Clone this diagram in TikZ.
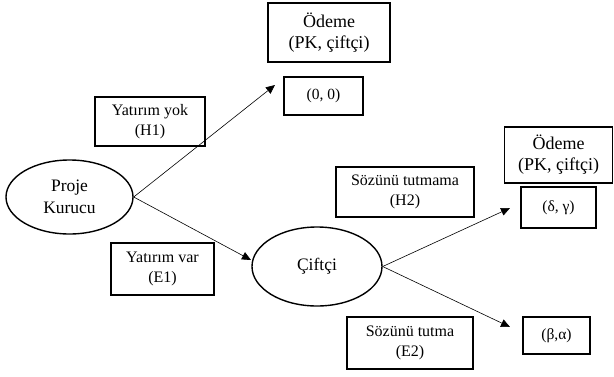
\documentclass[tikz,border=0pt]{standalone}
\usepackage{fontspec}
\setmainfont{Liberation Serif}
\usetikzlibrary{arrows.meta,shapes.geometric}

\begin{document}
\begin{tikzpicture}[x=1pt,y=-1pt]
    \tikzstyle{player}=[ellipse, draw=black, line width=1.4pt, inner sep=0pt, font=\fontsize{17.5}{22}\selectfont, align=center]
    \tikzstyle{choice}=[rectangle, draw=black, line width=1.6pt, inner sep=0pt, font=\fontsize{16}{20}\selectfont, align=center]
    \tikzstyle{payoff}=[rectangle, draw=black, line width=1.6pt, inner sep=0pt, font=\fontsize{15.5}{20}\selectfont, align=center]
    \tikzstyle{payhead}=[payoff, font=\fontsize{18}{21}\selectfont]
    \tikzstyle{connect}=[-{Triangle[length=9pt,width=8pt]}, line width=0.6pt]

      \useasboundingbox (0,0) rectangle (614,376);
      \node[player, minimum width=127pt, minimum height=74pt] (proje) at (69.5,197) {Proje\\Kurucu};
      \node[player, minimum width=130pt, minimum height=79pt] (ciftci) at (317,266.5) {Çiftçi};
      \node[choice, minimum width=110pt, minimum height=49pt] (yok) at (150,121.5) {Yatırım yok\\(H1)};
      \node[choice, minimum width=103pt, minimum height=52pt] (var) at (162.5,269) {Yatırım var\\(E1)};
      \node[choice, minimum width=138pt, minimum height=50pt] (tutmama) at (405,192) {Sözünü tutmama\\(H2)};
      \node[choice, minimum width=126pt, minimum height=52pt] (tutma) at (410,343) {Sözünü tutma\\(E2)};
      \node[payhead, minimum width=122pt, minimum height=59pt] (odeme1) at (329,32.5) {Ödeme\\(PK, çiftçi)};
      \node[payoff, minimum width=79pt, minimum height=38pt] (sifir) at (323.5,96) {(0, 0)};
      \node[payhead, minimum width=108pt, minimum height=56pt] (odeme2) at (558.5,155) {Ödeme\\(PK, çiftçi)};
      \node[payoff, minimum width=75pt, minimum height=41pt] (dg) at (558.5,207.5) {(δ, γ)};
      \node[payoff, minimum width=67pt, minimum height=37pt] (ba) at (556.5,335.5) {(β,α)};
      \coordinate (yokend) at (275,85);
      \coordinate (varend) at (251,260);
      \coordinate (tutmamaend) at (510,208);
      \coordinate (tutmaend) at (510,327);
      \path
        (proje.east) edge [connect] (yokend)
        (proje.east) edge [connect] (varend)
        (ciftci.east) edge [connect] (tutmamaend)
        (ciftci.east) edge [connect] (tutmaend);
\end{tikzpicture}
\end{document}
